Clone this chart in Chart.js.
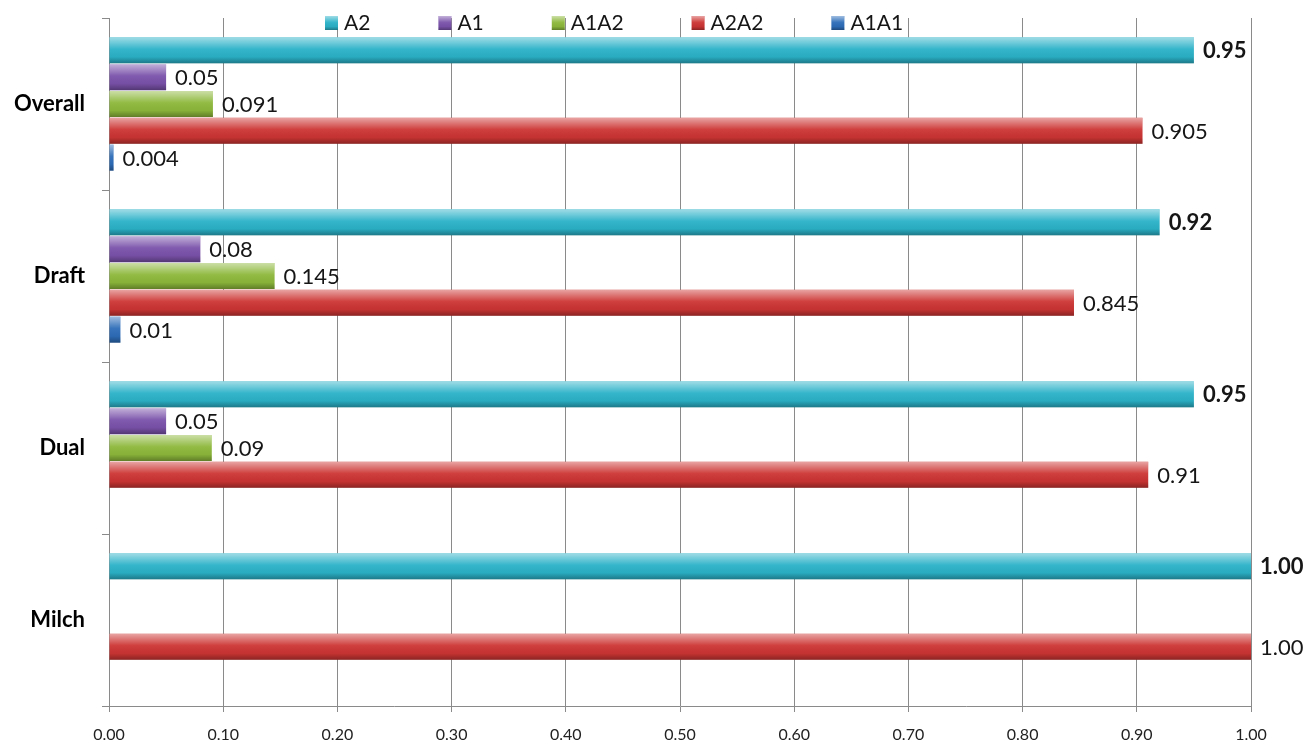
<!DOCTYPE html>
<html><head><meta charset="utf-8">
<script src="https://cdn.jsdelivr.net/npm/chart.js@4/dist/chart.umd.min.js"></script>
<style>html,body{margin:0;padding:0;background:#fff;overflow:hidden;}</style>
</head><body>
<canvas id="c" width="1316" height="744"></canvas>
<script>
// ---- data ----
const categories = ['Overall', 'Draft', 'Dual', 'Milch'];
const seriesNames = ['A2', 'A1', 'A1A2', 'A2A2', 'A1A1'];
const A2   = [0.95, 0.92, 0.95, 1.00];
const A1   = [0.05, 0.08, 0.05, null];
const A1A2 = [0.091, 0.145, 0.09, null];
const A2A2 = [0.905, 0.845, 0.91, 1.00];
const A1A1 = [0.004, 0.01, null, null];
const A2Labels   = ['0.95', '0.92', '0.95', '1.00'];
const A1Labels   = ['0.05', '0.08', '0.05', ''];
const A1A2Labels = ['0.091', '0.145', '0.09', ''];
const A2A2Labels = ['0.905', '0.845', '0.91', '1.00'];
const A1A1Labels = ['0.004', '0.01', '', ''];
const xTickLabels = ['0.00','0.10','0.20','0.30','0.40','0.50','0.60','0.70','0.80','0.90','1.00'];

// ---- styles ----
const seriesColors = ['#2BB2C8', '#7A52AA', '#8DB83B', '#CC3533', '#2D6DB9'];
const seriesValues = [A2, A1, A1A2, A2A2, A1A1];
const seriesLabels = [A2Labels, A1Labels, A1A2Labels, A2A2Labels, A1A1Labels];
const FONT = 'Lato, "Open Sans", "DejaVu Sans", sans-serif';

function glossRect(ctx, left, top, w, h) {
  const g = ctx.createLinearGradient(0, top, 0, top + h);
  g.addColorStop(0, 'rgba(255,255,255,0.55)');
  g.addColorStop(0.18, 'rgba(255,255,255,0.35)');
  g.addColorStop(0.45, 'rgba(255,255,255,0.05)');
  g.addColorStop(0.75, 'rgba(0,0,0,0.04)');
  g.addColorStop(1, 'rgba(0,0,0,0.32)');
  ctx.fillStyle = g;
  ctx.fillRect(left, top, w, h);
}

const glossPlugin = {
  id: 'gloss',
  afterDatasetsDraw(chart) {
    const ctx = chart.ctx;
    ctx.save();
    chart.data.datasets.forEach((ds, i) => {
      const meta = chart.getDatasetMeta(i);
      meta.data.forEach((bar, j) => {
        if (ds.data[j] == null) return;
        const p = bar.getProps(['x', 'y', 'base', 'height'], true);
        const left = Math.min(p.base, p.x), w = Math.abs(p.x - p.base);
        glossRect(ctx, left, p.y - p.height / 2, w, p.height);
      });
    });
    ctx.restore();
  }
};

const labelPlugin = {
  id: 'valueLabels',
  afterDatasetsDraw(chart) {
    const ctx = chart.ctx;
    ctx.save();
    ctx.textBaseline = 'middle';
    ctx.textAlign = 'left';
    ctx.fillStyle = '#161616';
    chart.data.datasets.forEach((ds, i) => {
      const meta = chart.getDatasetMeta(i);
      ctx.font = (i === 0 ? 'bold ' : '') + '22px ' + FONT;
      meta.data.forEach((bar, j) => {
        if (ds.data[j] == null) return;
        const p = bar.getProps(['x', 'y'], true);
        ctx.fillText(seriesLabels[i][j], p.x + 9, p.y + 1);
      });
    });
    ctx.restore();
  }
};

const legendPlugin = {
  id: 'topLegend',
  afterDraw(chart) {
    const ctx = chart.ctx;
    ctx.save();
    ctx.font = '21px ' + FONT;
    ctx.textBaseline = 'middle';
    ctx.textAlign = 'left';
    let x = 325;
    const cy = 23;
    chart.data.datasets.forEach((ds, i) => {
      ctx.fillStyle = seriesColors[i];
      ctx.fillRect(x, cy - 7, 13, 14);
      glossRect(ctx, x, cy - 7, 13, 14);
      ctx.fillStyle = '#161616';
      ctx.fillText(ds.label, x + 19, cy);
      x += 19 + ctx.measureText(ds.label).width + 68;
    });
    ctx.restore();
  }
};

new Chart(document.getElementById('c'), {
  type: 'bar',
  data: {
    labels: categories,
    datasets: seriesNames.map((name, i) => ({
      label: name,
      data: seriesValues[i],
      backgroundColor: seriesColors[i],
      borderWidth: 0,
      categoryPercentage: 0.78,
      barPercentage: 0.97
    }))
  },
  options: {
    indexAxis: 'y',
    responsive: false,
    devicePixelRatio: 1,
    animation: false,
    layout: { padding: { top: 18, right: 65, left: 0, bottom: 0 } },
    plugins: {
      legend: { display: false },
      tooltip: { enabled: false }
    },
    scales: {
      x: {
        min: 0, max: 1,
        ticks: {
          stepSize: 0.1,
          callback: (v, idx) => xTickLabels[idx],
          font: { family: FONT, size: 16 },
          color: '#222',
          padding: 13,
          maxRotation: 0
        },
        grid: { color: '#8a8a8a', lineWidth: 1, tickLength: 6 },
        border: { display: true, color: '#8a8a8a' },
        afterFit: s => { s.height = 38; s.paddingLeft = 0; s.paddingRight = 0; }
      },
      y: {
        ticks: {
          font: { family: FONT, size: 22, weight: 'bold' },
          color: '#000',
          padding: 17
        },
        grid: { drawOnChartArea: false, color: '#8a8a8a', tickLength: 7 },
        border: { display: true, color: '#8a8a8a' },
        afterFit: s => { s.width = 109; s.paddingTop = 0; s.paddingBottom = 0; }
      }
    }
  },
  plugins: [glossPlugin, labelPlugin, legendPlugin]
});
</script>
</body></html>
